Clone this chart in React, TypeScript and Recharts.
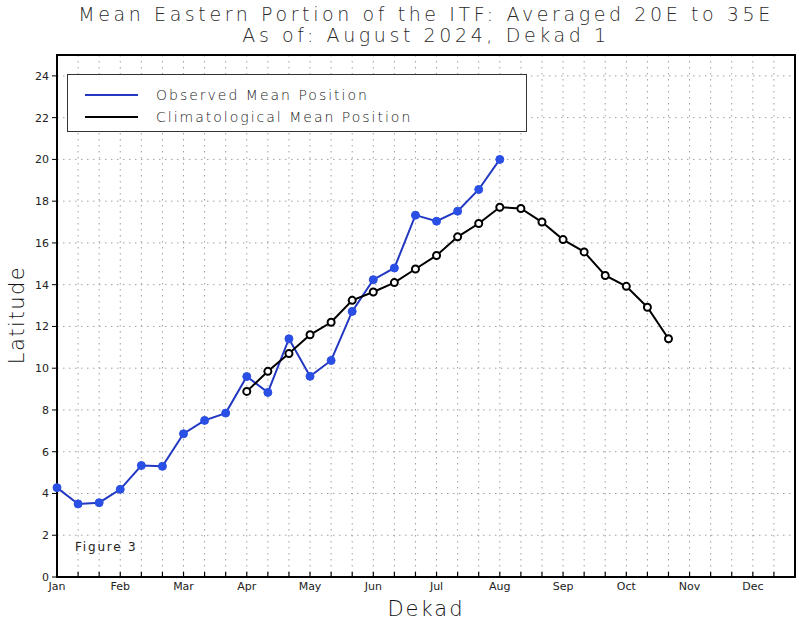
import { LineChart, Line, XAxis, YAxis, CartesianGrid, ReferenceArea } from "recharts";

const MONTHS = ["Jan", "Feb", "Mar", "Apr", "May", "Jun", "Jul", "Aug", "Sep", "Oct", "Nov", "Dec"];
const DEKADS_PER_YEAR = 36;
const LAT_TICKS = [0, 2, 4, 6, 8, 10, 12, 14, 16, 18, 20, 22, 24];

// observed mean position, dekad 1 (Jan d1) .. dekad 22 (Aug d1)
const OBSERVED = [
  4.28, 3.5, 3.56, 4.2, 5.34, 5.3, 6.86, 7.5, 7.85, 9.6, 8.84, 11.41,
  9.61, 10.37, 12.72, 14.24, 14.8, 17.33, 17.04, 17.52, 18.56, 20.0,
];

// climatological mean position, dekad 10 (Apr d1) .. dekad 30 (Oct d3)
const CLIM_START = 10;
const CLIMATOLOGY = [
  8.89, 9.85, 10.7, 11.6, 12.2, 13.25, 13.65, 14.1, 14.75, 15.4, 16.29,
  16.93, 17.71, 17.65, 17.0, 16.16, 15.57, 14.44, 13.92, 12.92, 11.41,
];

const SERIES_NAMES = ["Observed Mean Position", "Climatological Mean Position"];

const BLUE = "#2238c2";
const BLUE_DOT = "#2a4fe4";
const FONT = "'DejaVu Sans', sans-serif";
const INK = "#222";

const dekads: number[] = [];
for (let d = 1; d <= DEKADS_PER_YEAR; d++) dekads.push(d);

const data = dekads.map((d) => ({
  dekad: d,
  observed: d <= OBSERVED.length ? OBSERVED[d - 1] : null,
  clim: d >= CLIM_START && d < CLIM_START + CLIMATOLOGY.length ? CLIMATOLOGY[d - CLIM_START] : null,
}));

function DekadTick(props: any) {
  const { x, y, payload } = props;
  const i = payload.value - 1;
  const label = i % 3 === 0 ? MONTHS[i / 3] : "";
  return (
    <g>
      <line x1={x} x2={x} y1={y} y2={y - 5} stroke="#000" strokeWidth={1.2} />
      {label && (
        <text x={x} y={y + 13} textAnchor="middle" fontSize={11} fill={INK} fontFamily={FONT}>
          {label}
        </text>
      )}
    </g>
  );
}

function LegendBox() {
  const colors = [BLUE, "#000"];
  return (
    <div
      style={{
        position: "absolute",
        left: 67,
        top: 74,
        width: 460,
        height: 58,
        border: "1px solid #333",
        background: "#fff",
        boxSizing: "border-box",
        paddingTop: 9,
        fontFamily: FONT,
      }}
    >
      {SERIES_NAMES.map((name, i) => (
        <div key={name} style={{ display: "flex", alignItems: "center", height: 22 }}>
          <div style={{ width: 53, height: 2, background: colors[i], marginLeft: 17, marginRight: 18 }} />
          <span style={{ fontSize: 14, color: "#222", letterSpacing: 2, fontWeight: 300 }}>{name}</span>
        </div>
      ))}
    </div>
  );
}

export default function App() {
  return (
    <div style={{ position: "relative", width: 800, height: 625, background: "#fff", fontFamily: FONT }}>
      <style>{"body{margin:0}"}</style>
      <div
        style={{
          position: "absolute",
          left: 26,
          width: 800,
          top: 4,
          textAlign: "center",
          fontSize: 19,
          lineHeight: "21px",
          color: "#2a2a2a",
          letterSpacing: 3.6,
          fontWeight: 300,
        }}
      >
        <div>Mean Eastern Portion of the ITF: Averaged 20E to 35E</div>
        <div>As of: August 2024, Dekad 1</div>
      </div>
      <LineChart width={800} height={625} data={data} margin={{ top: 55, right: 5, bottom: 18, left: 17 }}>
        <CartesianGrid stroke="#a0a0a0" strokeDasharray="1.5 4.5" strokeWidth={1} />
        <XAxis
          dataKey="dekad"
          type="number"
          domain={[1, 36]}
          ticks={dekads}
          interval={0}
          height={30}
          tick={<DekadTick />}
          tickLine={false}
          tickSize={0}
          tickMargin={0}
          axisLine={{ stroke: "#000", strokeWidth: 2 }}
        />
        <YAxis
          type="number"
          domain={[0, 25]}
          ticks={LAT_TICKS}
          interval={0}
          width={40}
          tickSize={5}
          tickMargin={3}
          tickLine={{ stroke: "#000" }}
          axisLine={{ stroke: "#000", strokeWidth: 2 }}
          tick={{ fontSize: 11, fill: INK, fontFamily: FONT }}
        />
        <ReferenceArea x1={1} x2={36} y1={0} y2={25} fill="none" stroke="#000" strokeWidth={2} ifOverflow="visible" />
        <Line
          dataKey="observed"
          name={SERIES_NAMES[0]}
          stroke={BLUE}
          strokeWidth={2}
          dot={{ r: 4, fill: BLUE_DOT, stroke: BLUE_DOT, strokeWidth: 1 }}
          isAnimationActive={false}
        />
        <Line
          dataKey="clim"
          name={SERIES_NAMES[1]}
          stroke="#000"
          strokeWidth={2}
          dot={{ r: 3.5, fill: "#fff", stroke: "#000", strokeWidth: 2 }}
          isAnimationActive={false}
        />
      </LineChart>
      <LegendBox />
      <div
        style={{
          position: "absolute",
          left: 75,
          top: 540,
          fontSize: 12,
          color: "#222",
          letterSpacing: 1.8,
        }}
      >
        Figure 3
      </div>
      <div
        style={{
          position: "absolute",
          left: 366,
          top: 597,
          width: 120,
          textAlign: "center",
          fontSize: 21,
          color: "#111",
          letterSpacing: 2,
          fontWeight: 300,
        }}
      >
        Dekad
      </div>
      <div
        style={{
          position: "absolute",
          left: -43,
          top: 303,
          width: 120,
          textAlign: "center",
          fontSize: 21,
          color: "#111",
          letterSpacing: 1.5,
          fontWeight: 300,
          transform: "rotate(-90deg)",
        }}
      >
        Latitude
      </div>
    </div>
  );
}
